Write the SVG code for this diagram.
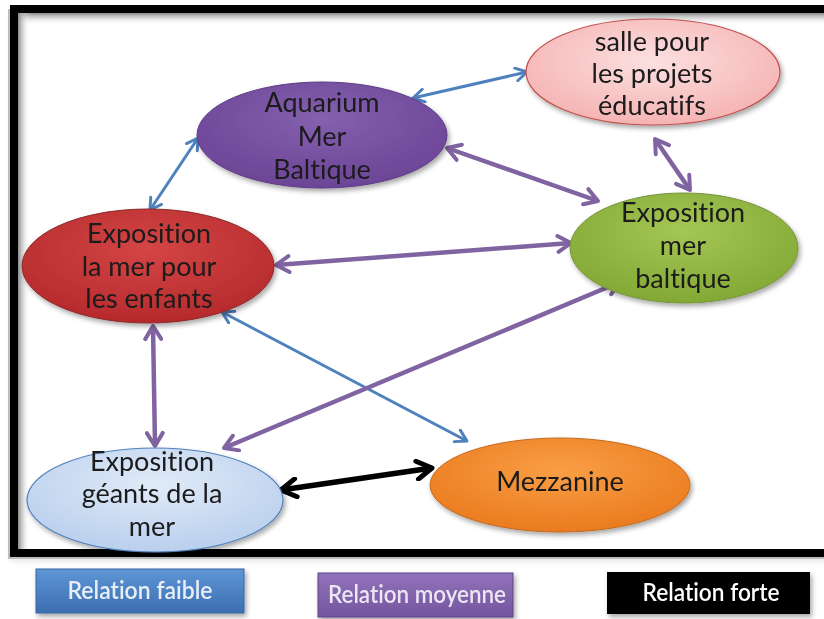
<svg xmlns="http://www.w3.org/2000/svg" width="824" height="619" viewBox="0 0 824 619">
<style>
.lbl{font-family:"Lato","Open Sans",sans-serif;font-size:27px;fill:#1a1a1a;text-anchor:middle;font-variant-ligatures:none}
.leg{font-family:"Lato",sans-serif;font-size:24px;font-weight:600;text-anchor:middle;font-variant-ligatures:none}
.cb{fill:none;stroke:#4F81BD;stroke-width:3}
.cp{fill:none;stroke:#8064A2;stroke-width:4.5}
.ck{fill:none;stroke:#000;stroke-width:5.5}
</style>
<defs>
<filter id="sh" x="-20%" y="-20%" width="140%" height="150%"><feDropShadow dx="2" dy="3" stdDeviation="2.5" flood-color="#000" flood-opacity="0.35"/></filter>
<linearGradient id="gTop" x1="0" y1="0" x2="0" y2="1"><stop offset="0" stop-color="#8a8a8a"/><stop offset="1" stop-color="#fff" stop-opacity="0"/></linearGradient>
<linearGradient id="gLeft" x1="0" y1="0" x2="1" y2="0"><stop offset="0" stop-color="#8a8a8a"/><stop offset="1" stop-color="#fff" stop-opacity="0"/></linearGradient>
<radialGradient id="gPur" cx="0.5" cy="0.35" r="0.7"><stop offset="0" stop-color="#8460AE"/><stop offset="1" stop-color="#6A4295"/></radialGradient>
<radialGradient id="gPink" cx="0.5" cy="0.4" r="0.65"><stop offset="0" stop-color="#FCE0E0"/><stop offset="1" stop-color="#F5AFAF"/></radialGradient>
<radialGradient id="gGreen" cx="0.5" cy="0.35" r="0.7"><stop offset="0" stop-color="#A4C655"/><stop offset="1" stop-color="#80A632"/></radialGradient>
<radialGradient id="gRed" cx="0.5" cy="0.35" r="0.7"><stop offset="0" stop-color="#D44545"/><stop offset="1" stop-color="#B3282B"/></radialGradient>
<radialGradient id="gBlue" cx="0.5" cy="0.35" r="0.7"><stop offset="0" stop-color="#E1EBF8"/><stop offset="1" stop-color="#B6CDEC"/></radialGradient>
<radialGradient id="gOr" cx="0.5" cy="0.35" r="0.7"><stop offset="0" stop-color="#F99E45"/><stop offset="1" stop-color="#E9781C"/></radialGradient>
<linearGradient id="lBlue" x1="0" y1="0" x2="0" y2="1"><stop offset="0" stop-color="#5E96D6"/><stop offset="1" stop-color="#3C6EB0"/></linearGradient>
<linearGradient id="lPur" x1="0" y1="0" x2="0" y2="1"><stop offset="0" stop-color="#9373BB"/><stop offset="1" stop-color="#72559E"/></linearGradient>
<marker id="mb" viewBox="0 0 16 16" refX="14" refY="8" markerWidth="16" markerHeight="16" markerUnits="userSpaceOnUse" orient="auto-start-reverse"><path d="M3,1.5 L14,8 L3,14.5" fill="none" stroke="#4F81BD" stroke-width="3" stroke-linecap="round" stroke-linejoin="round"/></marker>
<marker id="mp" viewBox="0 0 20 20" refX="17" refY="10" markerWidth="20" markerHeight="20" markerUnits="userSpaceOnUse" orient="auto-start-reverse"><path d="M4,2 L17,10 L4,18" fill="none" stroke="#8064A2" stroke-width="4" stroke-linecap="round" stroke-linejoin="round"/></marker>
<marker id="mk" viewBox="0 0 22 22" refX="19" refY="11" markerWidth="22" markerHeight="22" markerUnits="userSpaceOnUse" orient="auto-start-reverse"><path d="M4,2 L19,11 L4,20" fill="none" stroke="#000" stroke-width="5" stroke-linecap="round" stroke-linejoin="round"/></marker>
</defs>
<rect width="824" height="619" fill="#fff"/>
<g id="frame">
<rect x="8" y="9" width="830" height="550" fill="#000" opacity="0.25" filter="url(#sh)"/>
<rect x="18" y="13" width="810" height="536" fill="#fff"/>
<rect x="18" y="13" width="810" height="12" fill="url(#gTop)"/>
<rect x="18" y="13" width="12" height="536" fill="url(#gLeft)"/>
<rect x="14" y="9" width="820" height="544" fill="none" stroke="#000" stroke-width="8"/>
</g>
<g id="connectors">
<line class="cb" x1="413" y1="98" x2="527" y2="72" marker-start="url(#mb)" marker-end="url(#mb)"/>
<line class="cb" x1="198" y1="138" x2="150" y2="210" marker-start="url(#mb)" marker-end="url(#mb)"/>
<line class="cp" x1="447" y1="148" x2="598" y2="201" marker-start="url(#mp)" marker-end="url(#mp)"/>
<line class="cp" x1="655" y1="139" x2="690" y2="190" marker-start="url(#mp)" marker-end="url(#mp)"/>
<line class="cp" x1="276" y1="265" x2="571" y2="243" marker-start="url(#mp)" marker-end="url(#mp)"/>
<line class="cb" x1="222" y1="312" x2="467" y2="441" marker-start="url(#mb)" marker-end="url(#mb)"/>
<line class="cp" x1="153" y1="326" x2="155" y2="446" marker-start="url(#mp)" marker-end="url(#mp)"/>
<line class="cp" x1="620" y1="282" x2="224" y2="448" marker-start="url(#mp)" marker-end="url(#mp)"/>
<line class="ck" x1="281" y1="490" x2="432" y2="468" marker-start="url(#mk)" marker-end="url(#mk)"/>
</g>
<g id="aquarium" filter="url(#sh)">
<ellipse cx="322" cy="135" rx="125" ry="53" fill="url(#gPur)" stroke="#5E3B86" stroke-width="1"/>
<text class="lbl" x="322" y="112">Aquarium</text>
<text class="lbl" x="322" y="146">Mer</text>
<text class="lbl" x="322" y="179">Baltique</text>
</g>
<g id="salle" filter="url(#sh)">
<ellipse cx="653" cy="72" rx="127" ry="53" fill="url(#gPink)" stroke="#C0504D" stroke-width="1.2"/>
<text class="lbl" x="652" y="51">salle pour</text>
<text class="lbl" x="652" y="83">les projets</text>
<text class="lbl" x="652" y="115">éducatifs</text>
</g>
<g id="expo-baltique" filter="url(#sh)">
<ellipse cx="684" cy="248" rx="114" ry="55" fill="url(#gGreen)" stroke="#77933C" stroke-width="1"/>
<text class="lbl" x="683" y="222">Exposition</text>
<text class="lbl" x="683" y="255">mer</text>
<text class="lbl" x="683" y="288">baltique</text>
</g>
<g id="expo-enfants" filter="url(#sh)">
<ellipse cx="148" cy="266" rx="126" ry="57" fill="url(#gRed)" stroke="#8C2A2A" stroke-width="1"/>
<text class="lbl" x="149" y="243">Exposition</text>
<text class="lbl" x="149" y="276">la mer pour</text>
<text class="lbl" x="149" y="308">les enfants</text>
</g>
<g id="expo-geants" filter="url(#sh)">
<ellipse cx="155" cy="500" rx="128" ry="52" fill="url(#gBlue)" stroke="#4F81BD" stroke-width="1.2"/>
<text class="lbl" x="152" y="471">Exposition</text>
<text class="lbl" x="152" y="503">géants de la</text>
<text class="lbl" x="152" y="536">mer</text>
</g>
<g id="mezzanine" filter="url(#sh)">
<ellipse cx="560" cy="485" rx="130" ry="47" fill="url(#gOr)" stroke="#C46A1E" stroke-width="1"/>
<text class="lbl" x="560" y="491">Mezzanine</text>
</g>
<g id="legend-faible" filter="url(#sh)">
<rect x="36" y="569" width="208" height="44" fill="url(#lBlue)" stroke="#3A67A3" stroke-width="1"/>
<text class="leg" x="140" y="599" fill="#e8eef6" textLength="145" lengthAdjust="spacingAndGlyphs">Relation faible</text>
</g>
<g id="legend-moyenne" filter="url(#sh)">
<rect x="318" y="573" width="195" height="44" fill="url(#lPur)" stroke="#5E4387" stroke-width="1"/>
<text class="leg" x="417" y="603" fill="#ece6f3" textLength="178" lengthAdjust="spacingAndGlyphs">Relation moyenne</text>
</g>
<g id="legend-forte" filter="url(#sh)">
<rect x="607" y="572" width="203" height="42" fill="#000"/>
<text class="leg" x="711" y="601" fill="#fff" textLength="137" lengthAdjust="spacingAndGlyphs">Relation forte</text>
</g>
</svg>
